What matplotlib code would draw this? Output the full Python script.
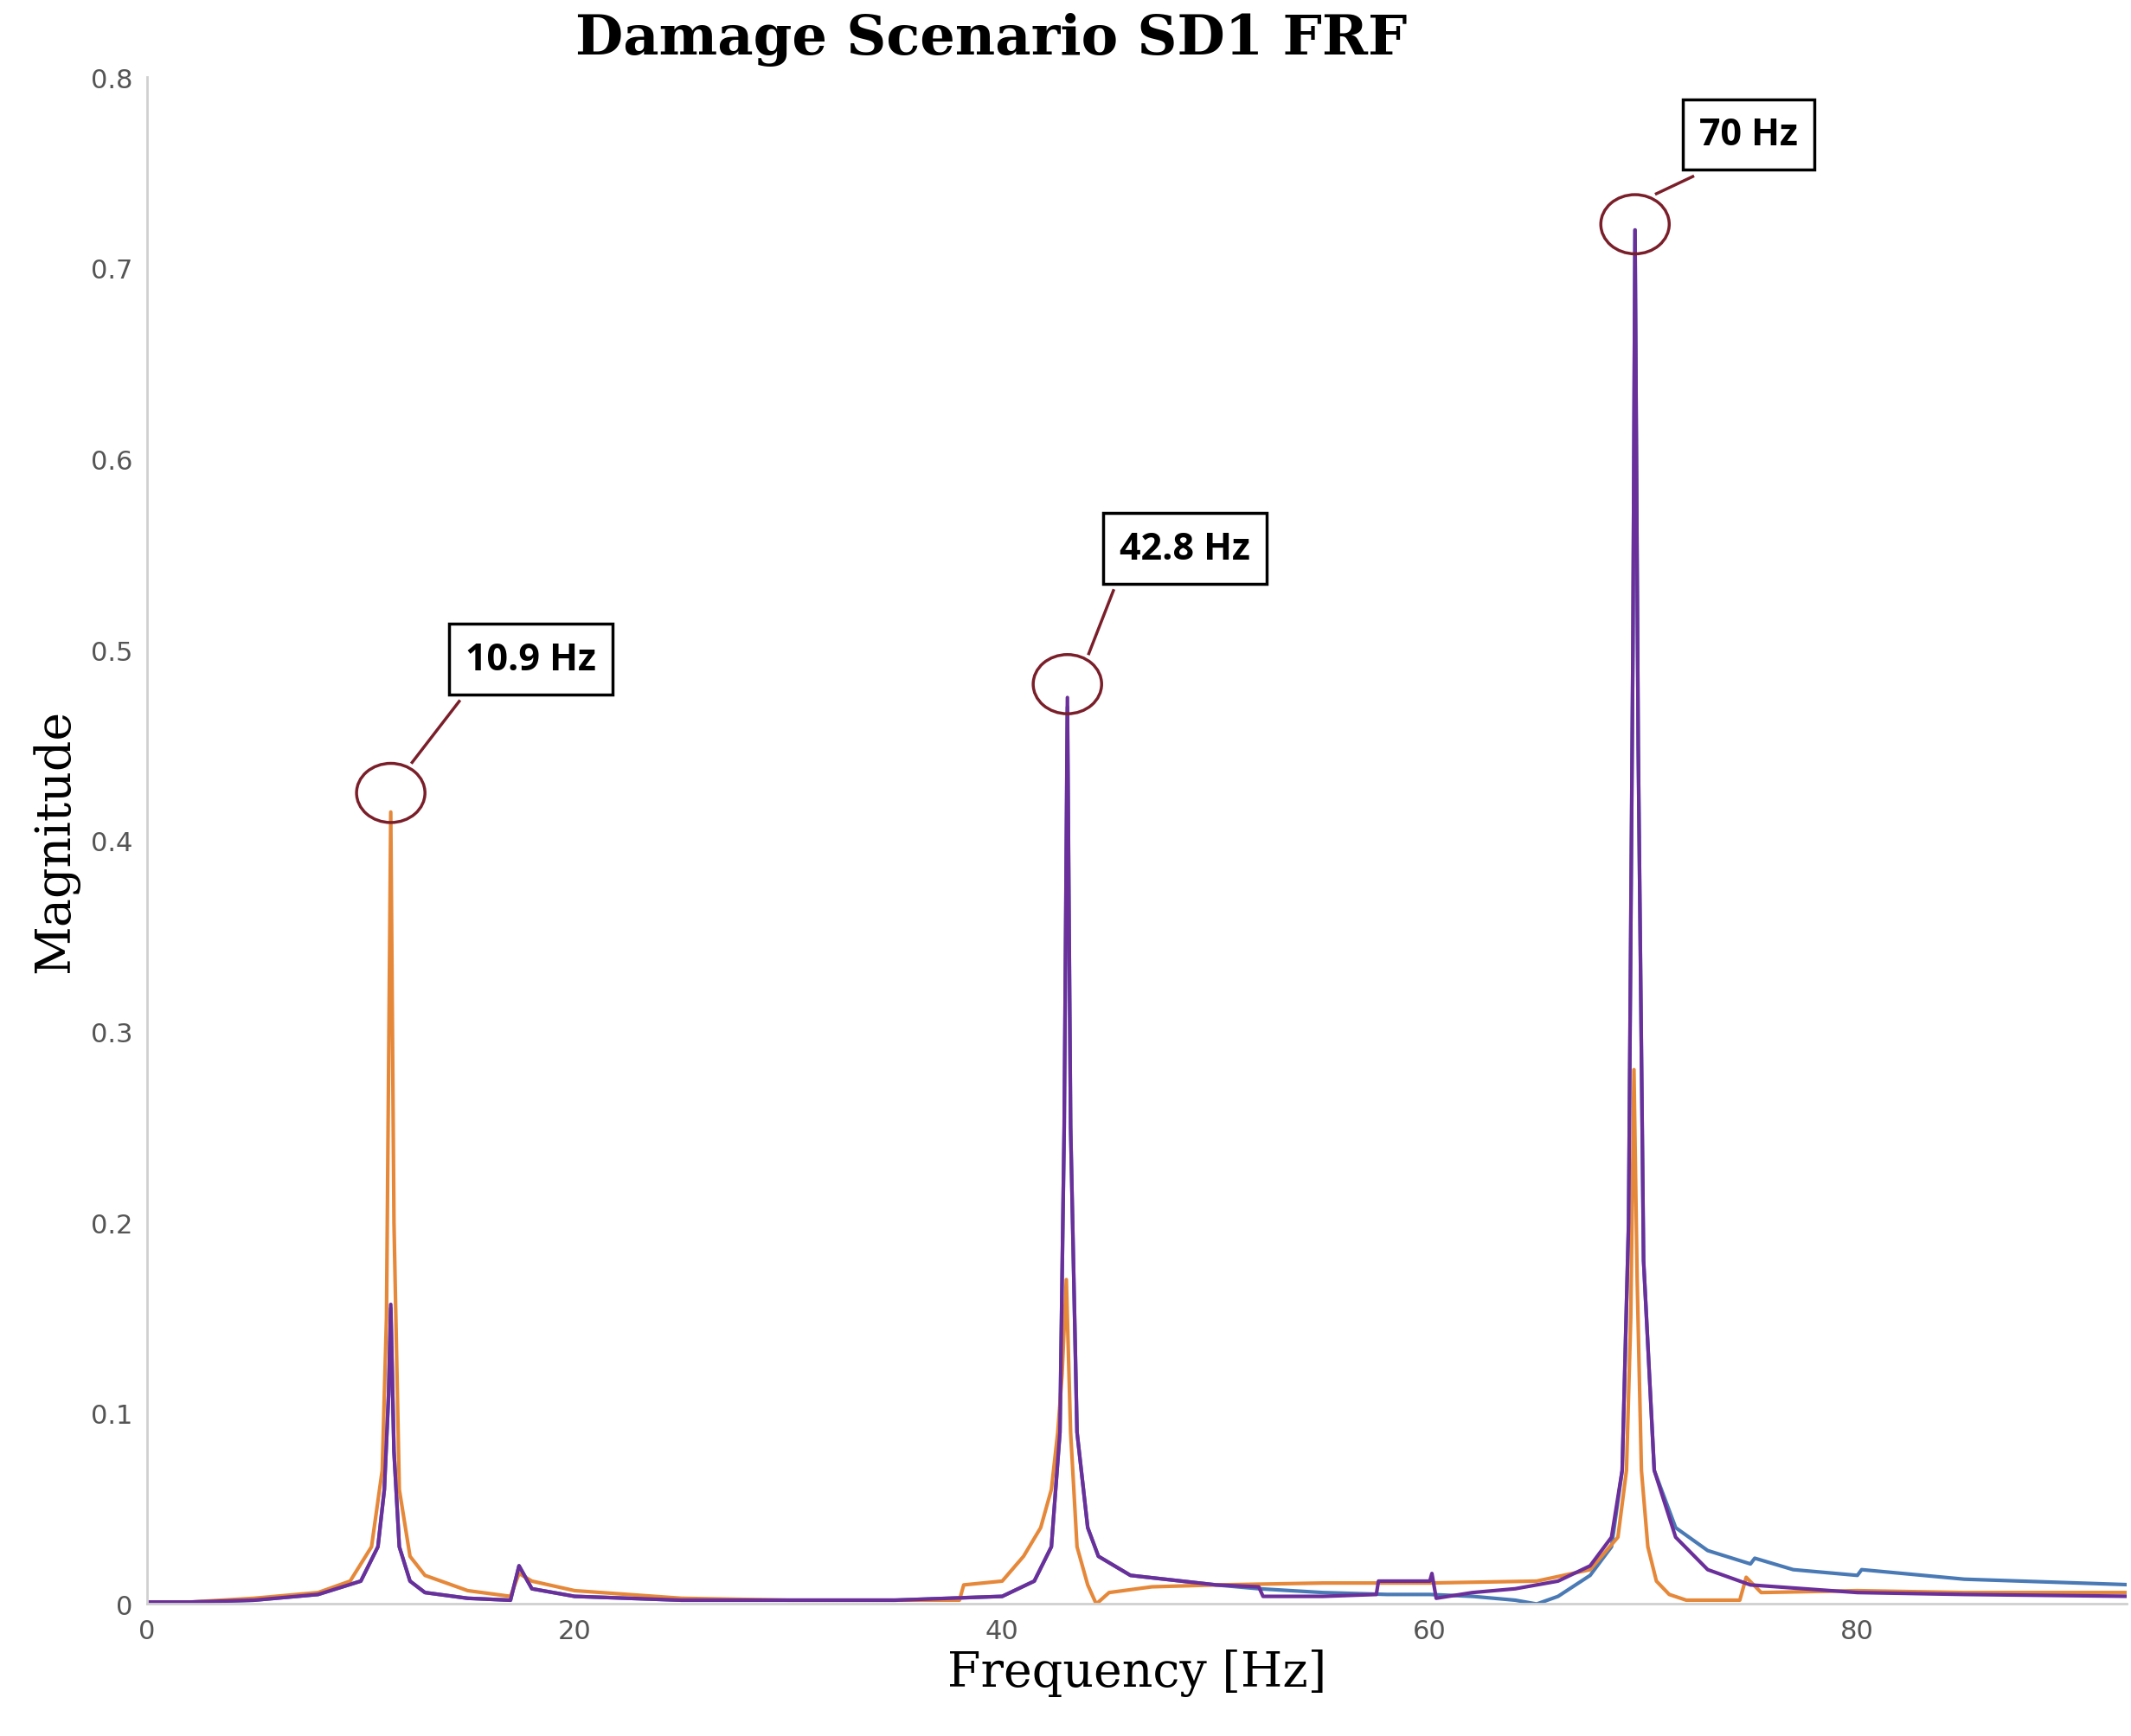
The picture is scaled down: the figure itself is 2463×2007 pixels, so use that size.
import matplotlib
matplotlib.use("Agg")
import matplotlib.pyplot as plt
from matplotlib.patches import Ellipse

# Frequency [Hz] / magnitude points
blue_f = [0, 2, 5, 8, 10, 10.8, 11.1, 11.3, 11.4, 11.55, 11.8, 12.3, 13, 15, 17, 17.4, 18, 20, 25, 30, 35, 40, 41.5, 42.3, 42.7, 42.9, 43.05, 43.2, 43.5, 44, 44.5, 46, 50, 52, 55, 58, 60, 62, 64, 65, 66, 67.5, 68.5, 69.0, 69.3, 69.5, 69.6, 69.75, 70.0, 70.5, 71.5, 73, 75, 75.2, 77, 80, 80.2, 85, 93]
blue_m = [0.001, 0.001, 0.002, 0.005, 0.012, 0.03, 0.06, 0.11, 0.155, 0.08, 0.03, 0.012, 0.006, 0.003, 0.002, 0.02, 0.008, 0.004, 0.002, 0.002, 0.002, 0.004, 0.012, 0.03, 0.09, 0.25, 0.47, 0.25, 0.09, 0.04, 0.025, 0.015, 0.01, 0.008, 0.006, 0.005, 0.005, 0.004, 0.002, 0.0, 0.004, 0.015, 0.03, 0.07, 0.2, 0.5, 0.72, 0.45, 0.18, 0.07, 0.04, 0.028, 0.021, 0.024, 0.018, 0.015, 0.018, 0.013, 0.01]
orange_f = [0, 2, 5, 8, 9.5, 10.5, 11.0, 11.2, 11.4, 11.55, 11.8, 12.3, 13, 15, 17, 17.4, 18, 20, 25, 30, 35, 38, 38.2, 40, 41, 41.8, 42.3, 42.6, 42.8, 43.0, 43.2, 43.5, 44.0, 44.4, 45, 47, 50, 55, 60, 65, 67.5, 68.8, 69.2, 69.4, 69.55, 69.7, 69.9, 70.2, 70.6, 71.2, 72, 74.5, 74.8, 75.5, 80, 85, 93]
orange_m = [0.001, 0.001, 0.003, 0.006, 0.012, 0.03, 0.07, 0.15, 0.415, 0.2, 0.06, 0.025, 0.015, 0.007, 0.004, 0.016, 0.012, 0.007, 0.003, 0.002, 0.002, 0.002, 0.01, 0.012, 0.025, 0.04, 0.06, 0.09, 0.12, 0.17, 0.09, 0.03, 0.01, 0.0, 0.006, 0.009, 0.01, 0.011, 0.011, 0.012, 0.018, 0.035, 0.07, 0.15, 0.28, 0.17, 0.07, 0.03, 0.012, 0.005, 0.002, 0.002, 0.014, 0.006, 0.007, 0.006, 0.006]
purple_f = [0, 2, 5, 8, 10, 10.8, 11.1, 11.3, 11.4, 11.55, 11.8, 12.3, 13, 15, 17, 17.4, 18, 20, 25, 30, 35, 40, 41.5, 42.3, 42.7, 42.9, 43.05, 43.2, 43.5, 44, 44.5, 46, 50, 52, 52.2, 55, 57.5, 57.6, 60, 60.1, 60.3, 62, 64, 66, 67.5, 68.5, 69.0, 69.3, 69.5, 69.6, 69.75, 70.0, 70.5, 71.5, 73, 75, 80, 85, 93]
purple_m = [0.001, 0.001, 0.002, 0.005, 0.012, 0.03, 0.06, 0.11, 0.157, 0.08, 0.03, 0.012, 0.006, 0.003, 0.002, 0.02, 0.008, 0.004, 0.002, 0.002, 0.002, 0.004, 0.012, 0.03, 0.09, 0.25, 0.475, 0.25, 0.09, 0.04, 0.025, 0.015, 0.01, 0.009, 0.004, 0.004, 0.005, 0.012, 0.012, 0.016, 0.003, 0.006, 0.008, 0.012, 0.02, 0.035, 0.07, 0.2, 0.5, 0.72, 0.45, 0.18, 0.07, 0.035, 0.018, 0.01, 0.006, 0.005, 0.004]

peak_f = [11.4, 43.05, 69.6]
peak_m = [0.425, 0.482, 0.723]
peak_labels = ["10.9 Hz", "42.8 Hz", "70 Hz"]
box_pos = [(14.9, 0.495), (45.5, 0.553), (72.6, 0.770)]
x_ticks = [0, 20, 40, 60, 80]
y_ticks = [0, 0.1, 0.2, 0.3, 0.4, 0.5, 0.6, 0.7, 0.8]

fig = plt.figure(figsize=(24.63, 20.08), dpi=100)
ax = fig.add_axes([0.069, 0.076, 0.929, 0.879])
ax.plot(blue_f, blue_m, color="#4a7ab5", lw=3)
ax.plot(orange_f, orange_m, color="#e6883a", lw=3)
ax.plot(purple_f, purple_m, color="#6a2f9a", lw=3)
ax.set_xlim(0, 92.6)
ax.set_ylim(0, 0.8)
ax.set_xticks(x_ticks)
ax.set_yticks(y_ticks)
ax.set_yticklabels(["0"] + [f"{v:.1f}" for v in y_ticks[1:]])
ax.tick_params(labelsize=22, colors="#555555", length=0, pad=12)
for s in ["top", "right"]:
    ax.spines[s].set_visible(False)
for s in ["left", "bottom"]:
    ax.spines[s].set_color("#d0d0d0")
    ax.spines[s].set_linewidth(2)

for (f, m, lab, (bx, by)) in zip(peak_f, peak_m, peak_labels, box_pos):
    ax.add_patch(Ellipse((f, m), 3.2, 0.031, fill=False, edgecolor="#7a1f2a", lw=2.5, zorder=5))
    ax.plot([f + 1.0, bx - 0.3], [m + 0.016, by - 0.022], color="#7a1f2a", lw=2.5, zorder=5)
    ax.text(bx, by, lab, fontsize=31, fontweight="bold", family="Open Sans", ha="left", va="center",
            bbox=dict(boxstyle="square,pad=0.45", facecolor="white", edgecolor="black", lw=2.5), zorder=6)

fig.text(0.465, 0.977, "Damage Scenario SD1 FRF", fontsize=46, fontweight="bold", family="DejaVu Serif", ha="center", va="center")
ax.set_xlabel("Frequency [Hz]", fontsize=40, family="DejaVu Serif", labelpad=4)
ax.set_ylabel("Magnitude", fontsize=40, family="DejaVu Serif", labelpad=10)
fig.savefig("out.png", dpi=100, facecolor="white")
